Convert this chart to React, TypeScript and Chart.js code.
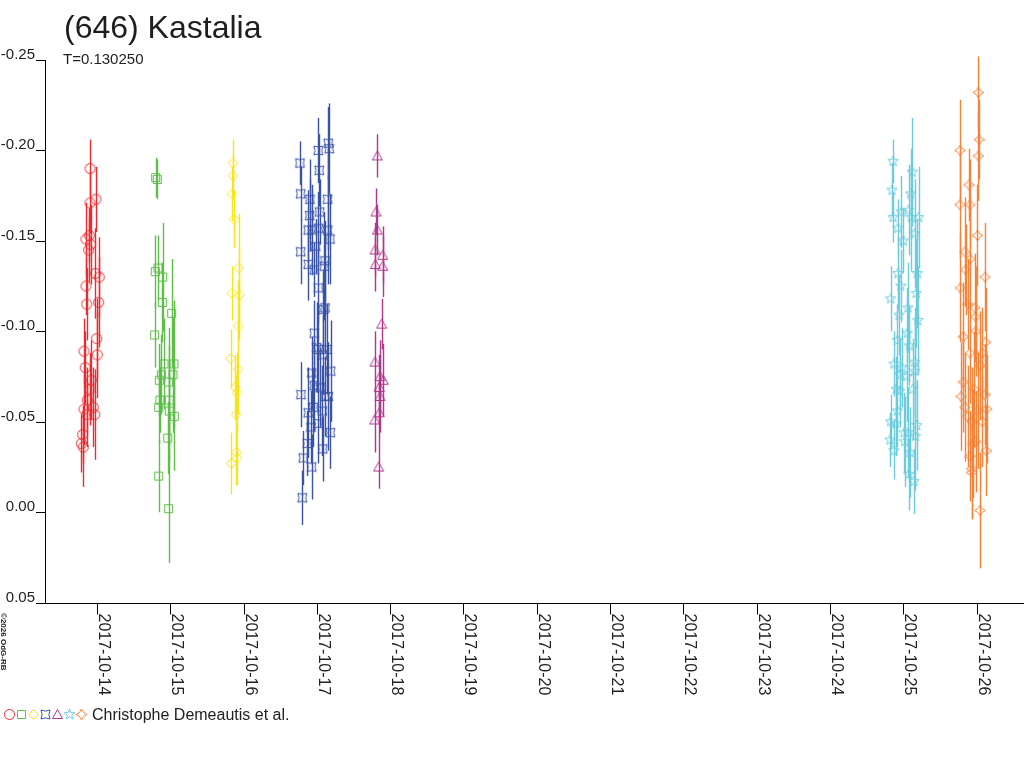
import React, { useEffect, useRef } from 'react';
import { Chart, registerables } from 'chart.js';

Chart.register(...registerables);

const TITLE = '(646) Kastalia';
const SUBTITLE = 'T=0.130250';
const LEGEND_TEXT = 'Christophe Demeautis et al.';
const COPYRIGHT = '\u00A92026 OdG-RB';
const START_Y = 2017;
const START_M = 9; // October (0-based)
const START_D = 14;

const X_TICKS = [0, 1, 2, 3, 4, 5, 6, 7, 8, 9, 10, 11, 12];
const Y_TICKS = [-0.25, -0.2, -0.15, -0.1, -0.05, 0, 0.05];
const X_MIN = -0.709;
const X_MAX = 12.647;
const Y_MIN = -0.25;
const Y_MAX = 0.05;

// days since 2017-10-14 00:00 UT, relative magnitude, error
const redX = [-0.095, -0.014, -0.095, -0.105, -0.15, -0.086, -0.113, -0.023, 0.031, -0.15, -0.14, 0.023, -0.004, -0.177, 0.004, -0.16, -0.078, -0.095, -0.132, -0.177, -0.05, -0.031, -0.14, -0.195, -0.214, -0.187];
const redY = [-0.19, -0.173, -0.171, -0.153, -0.151, -0.148, -0.145, -0.132, -0.13, -0.125, -0.115, -0.116, -0.096, -0.089, -0.087, -0.08, -0.073, -0.068, -0.062, -0.057, -0.058, -0.054, -0.054, -0.043, -0.038, -0.036];
const redErr = [0.016, 0.018, 0.017, 0.015, 0.02, 0.022, 0.018, 0.025, 0.022, 0.016, 0.02, 0.025, 0.022, 0.018, 0.024, 0.02, 0.022, 0.02, 0.018, 0.02, 0.022, 0.025, 0.018, 0.016, 0.016, 0.022];

const greenX = [0.801, 0.823, 0.795, 0.832, 0.896, 0.891, 1.019, 0.787, 0.914, 1.05, 0.877, 1.037, 0.85, 0.978, 0.859, 0.986, 0.842, 0.986, 1.055, 0.965, 0.842, 0.978];
const greenY = [-0.185, -0.184, -0.133, -0.135, -0.13, -0.116, -0.11, -0.098, -0.082, -0.082, -0.076, -0.076, -0.073, -0.072, -0.062, -0.062, -0.058, -0.056, -0.053, -0.041, -0.02, -0.002];
const greenErr = [0.011, 0.011, 0.02, 0.018, 0.03, 0.022, 0.03, 0.018, 0.025, 0.035, 0.022, 0.032, 0.02, 0.03, 0.018, 0.03, 0.02, 0.028, 0.03, 0.02, 0.02, 0.03];

const yellowX = [1.855, 1.855, 1.842, 1.869, 1.933, 1.842, 1.941, 1.924, 1.824, 1.924, 1.887, 1.91, 1.896, 1.9, 1.91, 1.832];
const yellowY = [-0.193, -0.186, -0.176, -0.162, -0.135, -0.121, -0.12, -0.103, -0.085, -0.079, -0.069, -0.066, -0.054, -0.033, -0.03, -0.027];
const yellowErr = [0.013, 0.012, 0.015, 0.016, 0.03, 0.015, 0.025, 0.025, 0.016, 0.025, 0.018, 0.022, 0.022, 0.018, 0.015, 0.017];

const blueX = [3.156, 3.169, 3.019, 2.769, 3.033, 2.779, 2.906, 3.147, 3.038, 2.902, 2.883, 2.937, 3.019, 3.147, 3.179, 2.984, 2.779, 2.883, 2.965, 3.111, 3.101, 3.019, 3.111, 3.087, 2.965, 2.997, 3.019, 3.138, 3.079, 3.188, 2.929, 2.965, 3.046, 3.111, 3.156, 2.783, 2.951, 2.883, 3.074, 2.92, 3.019, 3.183, 2.869, 3.079, 2.815, 2.929, 2.801];
const blueY = [-0.204, -0.201, -0.2, -0.193, -0.189, -0.176, -0.173, -0.173, -0.166, -0.164, -0.156, -0.156, -0.157, -0.156, -0.151, -0.147, -0.144, -0.137, -0.134, -0.139, -0.136, -0.124, -0.113, -0.112, -0.099, -0.091, -0.09, -0.09, -0.087, -0.078, -0.077, -0.07, -0.069, -0.064, -0.064, -0.065, -0.058, -0.055, -0.056, -0.047, -0.049, -0.044, -0.038, -0.035, -0.03, -0.025, -0.008];
const blueErr = [0.02, 0.025, 0.018, 0.012, 0.02, 0.015, 0.022, 0.028, 0.018, 0.02, 0.022, 0.025, 0.02, 0.03, 0.025, 0.015, 0.018, 0.02, 0.015, 0.022, 0.03, 0.02, 0.025, 0.022, 0.018, 0.025, 0.02, 0.025, 0.022, 0.028, 0.02, 0.025, 0.022, 0.022, 0.03, 0.018, 0.022, 0.025, 0.025, 0.02, 0.022, 0.02, 0.018, 0.018, 0.015, 0.018, 0.015];

const magentaX = [3.824, 3.806, 3.824, 3.793, 3.898, 3.797, 3.898, 3.884, 3.793, 3.861, 3.906, 3.851, 3.861, 3.851, 3.789, 3.843];
const magentaY = [-0.197, -0.166, -0.156, -0.145, -0.142, -0.137, -0.136, -0.104, -0.083, -0.075, -0.073, -0.069, -0.064, -0.055, -0.051, -0.025];
const magentaErr = [0.012, 0.013, 0.014, 0.015, 0.016, 0.015, 0.017, 0.014, 0.017, 0.02, 0.02, 0.018, 0.02, 0.018, 0.018, 0.012];

const cyanX = [10.86, 11.123, 10.846, 11.101, 10.86, 10.973, 11.074, 11.109, 11.21, 10.928, 11.155, 11.0, 11.191, 10.928, 10.965, 10.828, 11.177, 11.064, 10.941, 11.2, 10.918, 11.055, 11.082, 10.873, 11.155, 10.982, 11.155, 10.955, 11.046, 10.905, 10.951, 11.128, 10.918, 10.828, 10.9, 11.183, 11.01, 11.064, 11.164, 10.819, 11.019, 10.873, 11.091, 11.074, 11.146];
const cyanY = [-0.194, -0.188, -0.178, -0.176, -0.163, -0.166, -0.167, -0.163, -0.163, -0.157, -0.154, -0.15, -0.132, -0.132, -0.125, -0.118, -0.121, -0.113, -0.109, -0.106, -0.095, -0.099, -0.092, -0.082, -0.083, -0.08, -0.078, -0.076, -0.075, -0.068, -0.067, -0.068, -0.056, -0.05, -0.049, -0.048, -0.044, -0.044, -0.042, -0.04, -0.039, -0.034, -0.033, -0.021, -0.017];
const cyanErr = [0.012, 0.03, 0.015, 0.025, 0.014, 0.02, 0.025, 0.03, 0.028, 0.016, 0.03, 0.018, 0.03, 0.02, 0.02, 0.018, 0.03, 0.025, 0.022, 0.03, 0.02, 0.025, 0.022, 0.018, 0.03, 0.022, 0.028, 0.02, 0.025, 0.018, 0.02, 0.028, 0.02, 0.015, 0.018, 0.025, 0.022, 0.025, 0.03, 0.015, 0.025, 0.016, 0.025, 0.02, 0.018];

const orangeX = [12.023, 12.037, 11.774, 12.023, 11.896, 11.774, 11.91, 12.01, 11.842, 11.914, 11.851, 12.115, 11.778, 11.879, 11.978, 11.988, 11.988, 11.819, 12.124, 11.91, 12.078, 12.046, 11.819, 11.969, 11.787, 12.115, 11.842, 12.015, 12.138, 11.879, 11.942, 12.078, 11.988, 11.951, 12.133, 11.91, 11.933, 11.933, 12.046];
const orangeY = [-0.232, -0.206, -0.2, -0.197, -0.181, -0.17, -0.17, -0.153, -0.144, -0.14, -0.134, -0.13, -0.124, -0.115, -0.113, -0.108, -0.1, -0.097, -0.094, -0.088, -0.088, -0.081, -0.072, -0.068, -0.064, -0.065, -0.058, -0.056, -0.057, -0.053, -0.05, -0.05, -0.039, -0.038, -0.034, -0.031, -0.024, -0.022, -0.001];
const orangeErr = [0.02, 0.022, 0.028, 0.025, 0.02, 0.03, 0.025, 0.028, 0.03, 0.028, 0.025, 0.03, 0.03, 0.025, 0.03, 0.028, 0.025, 0.03, 0.03, 0.028, 0.025, 0.03, 0.028, 0.032, 0.03, 0.028, 0.03, 0.032, 0.03, 0.028, 0.03, 0.025, 0.028, 0.03, 0.025, 0.025, 0.028, 0.025, 0.032];

type Sym = 'circle' | 'square' | 'diamond' | 'cross' | 'triangle' | 'star5' | 'star4';

const SERIES: { x: number[]; y: number[]; err: number[]; color: string; sym: Sym }[] = [
  { x: redX, y: redY, err: redErr, color: '#EE2A2E', sym: 'circle' },
  { x: greenX, y: greenY, err: greenErr, color: '#5EBE48', sym: 'square' },
  { x: yellowX, y: yellowY, err: yellowErr, color: '#F8E41C', sym: 'diamond' },
  { x: blueX, y: blueY, err: blueErr, color: '#3A53A6', sym: 'cross' },
  { x: magentaX, y: magentaY, err: magentaErr, color: '#B1368E', sym: 'triangle' },
  { x: cyanX, y: cyanY, err: cyanErr, color: '#6CCBDC', sym: 'star5' },
  { x: orangeX, y: orangeY, err: orangeErr, color: '#F4833A', sym: 'star4' },
];

const FONT = '"Liberation Sans", Arial, sans-serif';

function tracePath(ctx: CanvasRenderingContext2D, sym: Sym) {
  ctx.beginPath();
  if (sym === 'circle') {
    ctx.arc(0, 0, 5, 0, Math.PI * 2);
  } else if (sym === 'square') {
    ctx.rect(-4, -4, 8, 8);
  } else if (sym === 'diamond') {
    ctx.moveTo(0, -5);
    ctx.lineTo(5, 0);
    ctx.lineTo(0, 5);
    ctx.lineTo(-5, 0);
    ctx.closePath();
  } else if (sym === 'cross') {
    const a = 4.5;
    const b = 2.2;
    ctx.moveTo(-a, -a);
    ctx.quadraticCurveTo(0, -b, a, -a);
    ctx.quadraticCurveTo(b, 0, a, a);
    ctx.quadraticCurveTo(0, b, -a, a);
    ctx.quadraticCurveTo(-b, 0, -a, -a);
    ctx.closePath();
  } else if (sym === 'triangle') {
    ctx.moveTo(0, -5);
    ctx.lineTo(5, 4);
    ctx.lineTo(-5, 4);
    ctx.closePath();
  } else if (sym === 'star5') {
    for (let i = 0; i < 10; i++) {
      const r = i % 2 === 0 ? 5.5 : 2.3;
      const ang = -Math.PI / 2 + (i * Math.PI) / 5;
      const px = Math.cos(ang) * r;
      const py = Math.sin(ang) * r;
      if (i === 0) ctx.moveTo(px, py);
      else ctx.lineTo(px, py);
    }
    ctx.closePath();
  } else {
    const r = 5.5;
    const c = 1.2;
    ctx.moveTo(0, -r);
    ctx.quadraticCurveTo(c, -c, r, 0);
    ctx.quadraticCurveTo(c, c, 0, r);
    ctx.quadraticCurveTo(-c, c, -r, 0);
    ctx.quadraticCurveTo(-c, -c, 0, -r);
    ctx.closePath();
  }
}

function makeSymbol(sym: Sym, color: string): HTMLCanvasElement {
  const c = document.createElement('canvas');
  c.width = 15;
  c.height = 15;
  const ctx = c.getContext('2d')!;
  ctx.translate(7.5, 7.5);
  ctx.strokeStyle = color;
  ctx.lineWidth = 1;
  tracePath(ctx, sym);
  ctx.stroke();
  return c;
}

function dateLabel(v: number): string {
  const d = new Date(Date.UTC(START_Y, START_M, START_D + v));
  return d.toISOString().slice(0, 10);
}

function yLabel(v: number): string {
  const s = v.toFixed(2);
  return s === '-0.00' ? '0.00' : s;
}

export default function App() {
  const ref = useRef<HTMLCanvasElement | null>(null);

  useEffect(() => {
    document.body.style.margin = '0';
    const canvas = ref.current;
    if (!canvas) return;
    const symbols = SERIES.map((s) => makeSymbol(s.sym, s.color));

    const errorBars = {
      id: 'errorBars',
      beforeDatasetsDraw(chart: any) {
        const ctx = chart.ctx as CanvasRenderingContext2D;
        const xs = chart.scales.x;
        const ys = chart.scales.y;
        ctx.save();
        ctx.lineWidth = 1.4;
        SERIES.forEach((s) => {
          ctx.strokeStyle = s.color;
          s.x.forEach((xv, i) => {
            const px = Math.round(xs.getPixelForValue(xv)) + 0.5;
            const y1 = ys.getPixelForValue(s.y[i] - s.err[i]);
            const y2 = ys.getPixelForValue(s.y[i] + s.err[i]);
            ctx.beginPath();
            ctx.moveTo(px, y1);
            ctx.lineTo(px, y2);
            ctx.stroke();
          });
        });
        ctx.restore();
      },
    };

    const decor = {
      id: 'decor',
      afterDraw(chart: any) {
        const ctx = chart.ctx as CanvasRenderingContext2D;
        const xs = chart.scales.x;
        const ys = chart.scales.y;
        const area = chart.chartArea;
        ctx.save();
        ctx.strokeStyle = '#000';
        ctx.lineWidth = 1;
        // axes
        const axisY = Math.round(area.bottom) + 0.5;
        const axisX = Math.round(area.left) + 0.5;
        ctx.beginPath();
        ctx.moveTo(36, axisY);
        ctx.lineTo(area.right, axisY);
        ctx.moveTo(axisX, Math.round(area.top));
        ctx.lineTo(axisX, axisY);
        ctx.stroke();
        // y ticks
        ctx.fillStyle = '#222';
        ctx.font = `15px ${FONT}`;
        ctx.textAlign = 'right';
        ctx.textBaseline = 'alphabetic';
        Y_TICKS.forEach((v) => {
          const py = Math.round(ys.getPixelForValue(v)) + 0.5;
          ctx.beginPath();
          ctx.moveTo(36, py);
          ctx.lineTo(axisX, py);
          ctx.stroke();
          ctx.fillText(yLabel(v), 35, py - 1.5);
        });
        // x ticks
        ctx.textAlign = 'left';
        X_TICKS.forEach((v) => {
          const px = Math.round(xs.getPixelForValue(v)) + 0.5;
          ctx.beginPath();
          ctx.moveTo(px, axisY);
          ctx.lineTo(px, axisY + 11);
          ctx.stroke();
          ctx.save();
          ctx.translate(px + 1, axisY + 10);
          ctx.rotate(Math.PI / 2);
          ctx.font = `16px ${FONT}`;
          ctx.fillText(dateLabel(v), 0, 0);
          ctx.restore();
        });
        // title
        ctx.textAlign = 'left';
        ctx.fillStyle = '#1e1e1e';
        ctx.font = `32px ${FONT}`;
        ctx.fillText(TITLE, 64, 38);
        ctx.font = `15px ${FONT}`;
        ctx.fillStyle = '#222';
        ctx.fillText(SUBTITLE, 63, 64);
        // copyright
        ctx.save();
        ctx.translate(1, 613);
        ctx.rotate(Math.PI / 2);
        ctx.font = `bold 8px ${FONT}`;
        ctx.fillText(COPYRIGHT, 0, 0);
        ctx.restore();
        // legend
        const ly = 714;
        symbols.forEach((img, i) => {
          ctx.drawImage(img, 2 + i * 12, ly - 7);
        });
        ctx.font = `16px ${FONT}`;
        ctx.fillStyle = '#222';
        ctx.fillText(LEGEND_TEXT, 92, 720);
        ctx.restore();
      },
    };

    const chart = new Chart(canvas, {
      type: 'scatter',
      data: {
        datasets: SERIES.map((s, k) => ({
          label: s.sym,
          data: s.x.map((xv, i) => ({ x: xv, y: s.y[i] })),
          pointStyle: symbols[k] as any,
          pointRadius: 5,
          borderColor: s.color,
          backgroundColor: 'transparent',
          showLine: false,
          clip: false as any,
        })),
      },
      options: {
        responsive: false,
        animation: false,
        devicePixelRatio: 1,
        layout: { autoPadding: false, padding: { left: 45, top: 60, right: 0, bottom: 165.3 } },
        scales: {
          x: { type: 'linear', min: X_MIN, max: X_MAX, display: false },
          y: { type: 'linear', min: Y_MIN, max: Y_MAX, reverse: true, display: false },
        },
        plugins: {
          legend: { display: false },
          tooltip: { enabled: false },
        },
        events: [],
      },
      plugins: [errorBars, decor],
    });
    return () => chart.destroy();
  }, []);

  return (
    <div style={{ position: 'relative', width: 1024, height: 768, background: '#fff' }}>
      <canvas ref={ref} width={1024} height={768} style={{ display: 'block', width: 1024, height: 768 }} />
    </div>
  );
}
